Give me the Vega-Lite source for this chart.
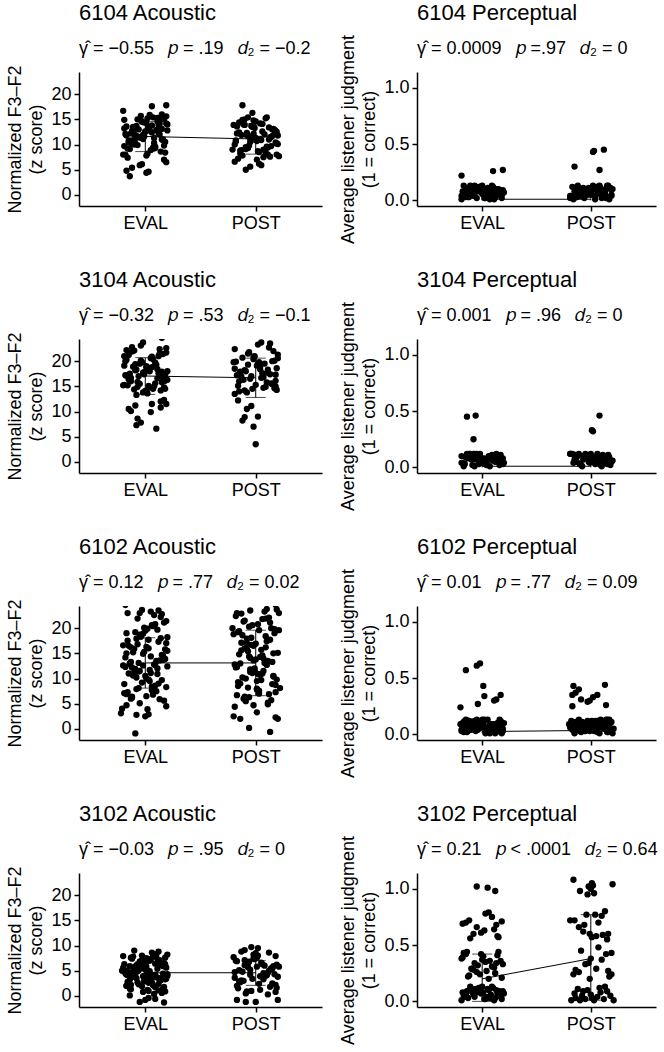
{
"$schema": "https://vega.github.io/schema/vega-lite/v6.json",
"padding": {"left": 6, "top": 1, "right": 5, "bottom": 3},
"columns": 2,
"bounds": "flush",
"spacing": {"row": 133, "column": 95},
"config": {
  "font": "Liberation Sans",
  "view": {"stroke": null},
  "axis": {"domainColor": "black", "tickColor": "black", "labelColor": "black", "titleColor": "black", "labelFontSize": 18, "titleFontSize": 18, "titleFontWeight": "normal", "tickSize": 5, "domainWidth": 1.5, "tickWidth": 1.5, "grid": false, "labelPadding": 3, "titlePadding": 5, "titleLineHeight": 21},
  "title": {"anchor": "start", "frame": "group", "fontSize": 22, "fontWeight": "normal", "color": "black", "subtitleFontSize": 18, "subtitleColor": "black", "subtitlePadding": 15, "offset": 6}
},
"datasets": {
"s": [
{"p":1,"x":1,"y":11.6,"lo":8.6,"hi":14.6},{"p":1,"x":2,"y":11.1,"lo":8.1,"hi":14.1},
{"p":2,"x":1,"y":0.01,"lo":0.0,"hi":0.02},{"p":2,"x":2,"y":0.01,"lo":0.0,"hi":0.02},
{"p":3,"x":1,"y":17.05,"lo":13.4,"hi":20.7},{"p":3,"x":2,"y":16.7,"lo":12.8,"hi":20.6},
{"p":4,"x":1,"y":0.01,"lo":0.0,"hi":0.02},{"p":4,"x":2,"y":0.01,"lo":0.0,"hi":0.02},
{"p":5,"x":1,"y":13.1,"lo":8.1,"hi":18.1},{"p":5,"x":2,"y":13.1,"lo":6.6,"hi":19.6},
{"p":6,"x":1,"y":0.025,"lo":0.01,"hi":0.04},{"p":6,"x":2,"y":0.035,"lo":0.015,"hi":0.055},
{"p":7,"x":1,"y":4.6,"lo":2.4,"hi":6.8},{"p":7,"x":2,"y":4.6,"lo":2.1,"hi":7.0},
{"p":8,"x":1,"y":0.2,"lo":0.0,"hi":0.42},{"p":8,"x":2,"y":0.38,"lo":0.01,"hi":0.77}
],
"d1": [{"x":0.82,"y":12.1},{"x":1.07,"y":9.4},{"x":0.96,"y":14.8},{"x":1.15,"y":11.0},{"x":0.89,"y":13.5},{"x":1.02,"y":8.2},{"x":1.19,"y":15.6},{"x":0.85,"y":10.7},{"x":1.10,"y":12.9},{"x":0.93,"y":9.9},{"x":1.13,"y":14.1},{"x":0.99,"y":11.6},{"x":0.81,"y":13.2},{"x":1.05,"y":8.9},{"x":1.17,"y":15.1},{"x":0.91,"y":10.2},{"x":1.00,"y":12.5},{"x":1.12,"y":13.9},{"x":0.86,"y":9.1},{"x":1.08,"y":11.3},{"x":0.97,"y":14.5},{"x":1.18,"y":10.5},{"x":0.88,"y":12.7},{"x":1.04,"y":15.9},{"x":1.14,"y":8.6},{"x":0.94,"y":13.0},{"x":0.83,"y":11.8},{"x":1.09,"y":9.6},{"x":1.01,"y":14.3},{"x":0.87,"y":12.2},{"x":1.16,"y":10.9},{"x":0.92,"y":13.7},{"x":1.11,"y":15.3},{"x":0.98,"y":11.1},{"x":0.84,"y":9.2},{"x":1.06,"y":12.4},{"x":1.20,"y":14.0},{"x":0.90,"y":10.0},{"x":1.03,"y":13.4},{"x":0.95,"y":11.5},{"x":1.18,"y":8.4},{"x":0.93,"y":15.0},{"x":1.04,"y":12.8},{"x":0.85,"y":10.4},{"x":1.11,"y":14.6},{"x":0.98,"y":11.9},{"x":0.81,"y":9.7},{"x":1.15,"y":13.1},{"x":0.90,"y":12.0},{"x":1.07,"y":15.4},{"x":0.87,"y":10.8},{"x":1.01,"y":7.8},{"x":1.19,"y":14.2},{"x":0.95,"y":11.4},{"x":0.83,"y":13.6},{"x":1.09,"y":9.3},{"x":1.00,"y":12.6},{"x":0.88,"y":10.1},{"x":1.14,"y":14.9},{"x":0.92,"y":11.7},{"x":1.03,"y":13.3},{"x":0.82,"y":8.0},{"x":1.12,"y":12.3},{"x":0.96,"y":15.7},{"x":0.86,"y":10.6},{"x":1.06,"y":13.8},{"x":1.17,"y":9.8},{"x":0.91,"y":11.2},{"x":0.99,"y":14.4},{"x":1.13,"y":12.0},{"x":0.84,"y":7.4},{"x":1.08,"y":10.3},{"x":0.89,"y":13.0},{"x":1.02,"y":15.2},{"x":1.16,"y":11.0},
{"x":0.80,"y":16.7},{"x":1.06,"y":17.6},{"x":1.19,"y":17.8},{"x":0.86,"y":3.7},{"x":0.83,"y":4.8},{"x":0.88,"y":5.4},{"x":0.95,"y":5.9},{"x":0.97,"y":6.1},{"x":1.01,"y":4.4},{"x":1.03,"y":4.6},{"x":1.19,"y":6.5},{"x":1.17,"y":7.0},{"x":0.80,"y":8.0},{"x":1.15,"y":16.0},{"x":1.20,"y":12.8},{"x":0.81,"y":14.9},
{"x":1.95,"y":11.2},{"x":2.03,"y":8.5},{"x":1.90,"y":13.9},{"x":2.20,"y":10.1},{"x":2.06,"y":12.6},{"x":1.84,"y":7.2},{"x":1.98,"y":14.8},{"x":2.11,"y":9.4},{"x":1.92,"y":11.8},{"x":2.16,"y":13.1},{"x":1.87,"y":8.9},{"x":2.01,"y":10.7},{"x":2.09,"y":15.2},{"x":1.83,"y":12.2},{"x":1.94,"y":9.8},{"x":2.14,"y":11.5},{"x":2.04,"y":14.2},{"x":1.88,"y":7.8},{"x":2.18,"y":10.4},{"x":1.97,"y":13.5},{"x":2.08,"y":12.0},{"x":1.86,"y":8.2},{"x":2.12,"y":11.0},{"x":2.00,"y":14.6},{"x":1.91,"y":9.1},{"x":2.17,"y":12.9},{"x":2.05,"y":10.9},{"x":1.81,"y":6.6},{"x":1.99,"y":13.3},{"x":2.13,"y":11.4},{"x":1.93,"y":15.4},{"x":2.10,"y":9.6},{"x":1.85,"y":12.4},{"x":2.19,"y":10.2},{"x":2.02,"y":8.7},{"x":1.89,"y":14.0},{"x":2.15,"y":11.7},{"x":1.96,"y":13.7},{"x":2.07,"y":7.5},{"x":1.82,"y":10.6},{"x":2.18,"y":12.7},{"x":1.93,"y":9.3},{"x":2.04,"y":11.1},{"x":1.85,"y":14.4},{"x":2.11,"y":8.0},{"x":1.98,"y":12.1},{"x":1.81,"y":10.0},{"x":2.15,"y":13.0},{"x":1.90,"y":15.0},{"x":2.07,"y":9.0},{"x":1.87,"y":11.9},{"x":2.01,"y":7.0},{"x":2.19,"y":12.5},{"x":1.95,"y":10.5},{"x":1.83,"y":13.6},{"x":2.09,"y":8.4},{"x":2.00,"y":11.3},{"x":1.88,"y":14.9},{"x":2.14,"y":9.7},{"x":1.92,"y":12.3},{"x":2.03,"y":6.2},{"x":1.82,"y":10.8},{"x":2.12,"y":13.4},{"x":1.96,"y":11.6},{"x":1.86,"y":8.8},{"x":2.06,"y":14.1},{"x":2.17,"y":12.8},{"x":1.91,"y":9.5},{"x":1.99,"y":11.0},{"x":2.13,"y":7.6},
{"x":1.88,"y":17.8},{"x":1.91,"y":5.0},{"x":1.95,"y":5.6},{"x":2.21,"y":7.7},{"x":2.20,"y":11.8},{"x":2.18,"y":12.4},{"x":2.19,"y":8.0},{"x":1.79,"y":9.0},{"x":1.80,"y":13.9},{"x":2.10,"y":15.4},{"x":1.97,"y":16.3},{"x":2.05,"y":5.9}],
"d2": [{"x":0.82,"y":0.08},{"x":1.07,"y":0.03},{"x":0.96,"y":0.11},{"x":1.15,"y":0.05},{"x":0.89,"y":0.13},{"x":1.02,"y":0.02},{"x":1.19,"y":0.09},{"x":0.85,"y":0.06},{"x":1.10,"y":0.12},{"x":0.93,"y":0.04},{"x":1.13,"y":0.10},{"x":0.99,"y":0.07},{"x":0.81,"y":0.01},{"x":1.05,"y":0.11},{"x":1.17,"y":0.05},{"x":0.91,"y":0.08},{"x":1.00,"y":0.13},{"x":1.12,"y":0.03},{"x":0.86,"y":0.09},{"x":1.08,"y":0.06},{"x":0.97,"y":0.12},{"x":1.18,"y":0.02},{"x":0.88,"y":0.10},{"x":1.04,"y":0.04},{"x":1.14,"y":0.07},{"x":0.94,"y":0.11},{"x":0.83,"y":0.05},{"x":1.09,"y":0.13},{"x":1.01,"y":0.08},{"x":0.87,"y":0.03},{"x":1.16,"y":0.09},{"x":0.92,"y":0.06},{"x":1.11,"y":0.01},{"x":0.98,"y":0.12},{"x":0.84,"y":0.04},{"x":1.06,"y":0.10},{"x":1.20,"y":0.07},{"x":0.90,"y":0.11},{"x":1.03,"y":0.02},{"x":0.95,"y":0.08},{"x":1.18,"y":0.05},{"x":0.93,"y":0.13},{"x":1.04,"y":0.09},{"x":0.85,"y":0.03},{"x":1.11,"y":0.06},{"x":0.98,"y":0.12},{"x":0.81,"y":0.04},{"x":1.15,"y":0.10},{"x":0.90,"y":0.07},{"x":1.07,"y":0.01},{"x":0.87,"y":0.11},{"x":1.01,"y":0.05},{"x":1.19,"y":0.08},{"x":0.95,"y":0.02},{"x":0.83,"y":0.13},{"x":1.09,"y":0.09},{"x":1.00,"y":0.06},{"x":0.88,"y":0.03},{"x":1.14,"y":0.10},{"x":0.92,"y":0.04},
{"x":0.81,"y":0.22},{"x":1.10,"y":0.26},{"x":1.19,"y":0.27},
{"x":1.95,"y":0.06},{"x":2.03,"y":0.12},{"x":1.90,"y":0.04},{"x":2.20,"y":0.10},{"x":2.06,"y":0.07},{"x":1.84,"y":0.01},{"x":1.98,"y":0.11},{"x":2.11,"y":0.05},{"x":1.92,"y":0.08},{"x":2.16,"y":0.13},{"x":1.87,"y":0.03},{"x":2.01,"y":0.09},{"x":2.09,"y":0.06},{"x":1.83,"y":0.12},{"x":1.94,"y":0.02},{"x":2.14,"y":0.10},{"x":2.04,"y":0.04},{"x":1.88,"y":0.07},{"x":2.18,"y":0.11},{"x":1.97,"y":0.05},{"x":2.08,"y":0.13},{"x":1.86,"y":0.08},{"x":2.12,"y":0.03},{"x":2.00,"y":0.09},{"x":1.91,"y":0.06},{"x":2.17,"y":0.01},{"x":2.05,"y":0.12},{"x":1.81,"y":0.04},{"x":1.99,"y":0.10},{"x":2.13,"y":0.07},{"x":1.93,"y":0.11},{"x":2.10,"y":0.02},{"x":1.85,"y":0.08},{"x":2.19,"y":0.05},{"x":2.02,"y":0.13},{"x":1.89,"y":0.09},{"x":2.15,"y":0.03},{"x":1.96,"y":0.06},{"x":2.07,"y":0.12},{"x":1.82,"y":0.04},{"x":2.18,"y":0.10},{"x":1.93,"y":0.07},{"x":2.04,"y":0.01},{"x":1.85,"y":0.11},{"x":2.11,"y":0.05},{"x":1.98,"y":0.08},{"x":1.81,"y":0.02},{"x":2.15,"y":0.13},{"x":1.90,"y":0.09},{"x":2.07,"y":0.06},{"x":1.87,"y":0.03},{"x":2.01,"y":0.10},{"x":2.19,"y":0.04},{"x":1.95,"y":0.08},{"x":1.83,"y":0.03},{"x":2.09,"y":0.11},{"x":2.00,"y":0.05},{"x":1.88,"y":0.13},{"x":2.14,"y":0.02},{"x":1.92,"y":0.09},
{"x":1.85,"y":0.30},{"x":2.02,"y":0.43},{"x":2.03,"y":0.44},{"x":2.12,"y":0.45},{"x":2.08,"y":0.27}],
"d3": [{"x":0.82,"y":17.2},{"x":1.07,"y":14.5},{"x":0.96,"y":20.1},{"x":1.15,"y":15.8},{"x":0.89,"y":18.9},{"x":1.02,"y":13.6},{"x":1.19,"y":21.7},{"x":0.85,"y":16.4},{"x":1.10,"y":19.3},{"x":0.93,"y":14.9},{"x":1.13,"y":22.4},{"x":0.99,"y":17.8},{"x":0.81,"y":15.3},{"x":1.05,"y":20.6},{"x":1.17,"y":16.9},{"x":0.91,"y":18.2},{"x":1.00,"y":13.9},{"x":1.12,"y":21.0},{"x":0.86,"y":17.5},{"x":1.08,"y":15.0},{"x":0.97,"y":19.8},{"x":1.18,"y":16.1},{"x":0.88,"y":22.8},{"x":1.04,"y":18.6},{"x":1.14,"y":14.2},{"x":0.94,"y":17.0},{"x":0.83,"y":20.3},{"x":1.09,"y":15.6},{"x":1.01,"y":19.0},{"x":0.87,"y":16.7},{"x":1.16,"y":21.4},{"x":0.92,"y":13.3},{"x":1.11,"y":18.4},{"x":0.98,"y":17.7},{"x":0.84,"y":15.2},{"x":1.06,"y":20.9},{"x":1.20,"y":16.3},{"x":0.90,"y":22.1},{"x":1.03,"y":14.7},{"x":0.95,"y":19.5},{"x":1.18,"y":17.3},{"x":0.93,"y":15.9},{"x":1.04,"y":18.0},{"x":0.85,"y":21.2},{"x":1.11,"y":16.6},{"x":0.98,"y":13.8},{"x":0.81,"y":19.1},{"x":1.15,"y":17.9},{"x":0.90,"y":14.4},{"x":1.07,"y":20.4},{"x":0.87,"y":16.0},{"x":1.01,"y":18.7},{"x":1.19,"y":22.6},{"x":0.95,"y":15.5},{"x":0.83,"y":17.1},{"x":1.09,"y":19.7},{"x":1.00,"y":14.1},{"x":0.88,"y":21.9},{"x":1.14,"y":16.8},{"x":0.92,"y":18.3},{"x":1.03,"y":15.1},{"x":0.82,"y":20.0},{"x":1.12,"y":17.6},{"x":0.96,"y":23.1},{"x":0.86,"y":16.2},{"x":1.06,"y":18.8},{"x":1.17,"y":14.8},{"x":0.91,"y":19.4},{"x":0.99,"y":17.4},{"x":1.13,"y":21.5},
{"x":1.15,"y":24.6},{"x":0.98,"y":23.7},{"x":0.85,"y":10.5},{"x":0.87,"y":10.1},{"x":0.91,"y":11.2},{"x":0.93,"y":8.6},{"x":0.92,"y":7.3},{"x":0.96,"y":7.8},{"x":1.10,"y":6.6},{"x":1.05,"y":9.9},{"x":1.06,"y":11.5},{"x":1.14,"y":12.0},{"x":1.14,"y":10.8},{"x":1.19,"y":11.5},{"x":1.17,"y":12.3},{"x":0.80,"y":15.2},{"x":0.81,"y":21.0},{"x":0.83,"y":22.2},{"x":1.20,"y":18.0},{"x":1.18,"y":14.5},
{"x":1.95,"y":16.5},{"x":2.03,"y":19.8},{"x":1.90,"y":14.2},{"x":2.20,"y":21.3},{"x":2.06,"y":17.6},{"x":1.84,"y":15.1},{"x":1.98,"y":20.4},{"x":2.11,"y":18.3},{"x":1.92,"y":13.8},{"x":2.16,"y":22.0},{"x":1.87,"y":16.9},{"x":2.01,"y":19.1},{"x":2.09,"y":14.9},{"x":1.83,"y":17.2},{"x":1.94,"y":21.8},{"x":2.14,"y":15.6},{"x":2.04,"y":18.9},{"x":1.88,"y":20.7},{"x":2.18,"y":16.1},{"x":1.97,"y":14.5},{"x":2.08,"y":19.5},{"x":1.86,"y":17.9},{"x":2.12,"y":22.7},{"x":2.00,"y":15.3},{"x":1.91,"y":18.0},{"x":2.17,"y":20.1},{"x":2.05,"y":16.7},{"x":1.81,"y":13.5},{"x":1.99,"y":21.0},{"x":2.13,"y":17.4},{"x":1.93,"y":19.3},{"x":2.10,"y":15.8},{"x":1.85,"y":14.0},{"x":2.19,"y":18.6},{"x":2.02,"y":23.3},{"x":1.89,"y":16.3},{"x":2.15,"y":20.0},{"x":1.96,"y":17.0},{"x":2.07,"y":14.7},{"x":1.82,"y":19.9},{"x":2.18,"y":15.0},{"x":1.93,"y":21.5},{"x":2.04,"y":18.4},{"x":1.85,"y":16.0},{"x":2.11,"y":17.7},{"x":1.98,"y":20.9},{"x":1.81,"y":22.4},{"x":2.15,"y":15.4},{"x":1.90,"y":18.2},{"x":2.07,"y":16.8},
{"x":2.00,"y":3.5},{"x":1.98,"y":7.0},{"x":2.02,"y":9.0},{"x":1.88,"y":8.2},{"x":1.90,"y":8.9},{"x":1.92,"y":10.5},{"x":1.96,"y":11.1},{"x":1.84,"y":12.2},{"x":2.19,"y":14.3},{"x":2.17,"y":14.6},{"x":2.05,"y":23.7},{"x":2.13,"y":23.5},{"x":1.80,"y":19.8},{"x":1.81,"y":18.5},{"x":2.20,"y":20.6},{"x":2.18,"y":17.3}],
"d4": [{"x":0.82,"y":0.04},{"x":1.07,"y":0.07},{"x":0.96,"y":0.11},{"x":1.15,"y":0.05},{"x":0.89,"y":0.12},{"x":1.02,"y":0.08},{"x":1.19,"y":0.03},{"x":0.85,"y":0.09},{"x":1.10,"y":0.06},{"x":0.93,"y":0.01},{"x":1.13,"y":0.12},{"x":0.99,"y":0.04},{"x":0.81,"y":0.10},{"x":1.05,"y":0.07},{"x":1.17,"y":0.11},{"x":0.91,"y":0.02},{"x":1.00,"y":0.08},{"x":1.12,"y":0.05},{"x":0.86,"y":0.12},{"x":1.08,"y":0.09},{"x":0.97,"y":0.03},{"x":1.18,"y":0.06},{"x":0.88,"y":0.12},{"x":1.04,"y":0.04},{"x":1.14,"y":0.10},{"x":0.94,"y":0.07},{"x":0.83,"y":0.01},{"x":1.09,"y":0.11},{"x":1.01,"y":0.05},{"x":0.87,"y":0.08},{"x":1.16,"y":0.02},{"x":0.92,"y":0.12},{"x":1.11,"y":0.09},{"x":0.98,"y":0.06},{"x":0.84,"y":0.03},{"x":1.06,"y":0.10},{"x":1.20,"y":0.04},{"x":0.90,"y":0.08},{"x":1.03,"y":0.03},{"x":0.95,"y":0.11},{"x":1.18,"y":0.05},{"x":0.93,"y":0.12},{"x":1.04,"y":0.02},{"x":0.85,"y":0.09},{"x":1.11,"y":0.06},{"x":0.98,"y":0.12},{"x":0.81,"y":0.04},{"x":1.15,"y":0.10},{"x":0.90,"y":0.07},{"x":1.07,"y":0.01},{"x":0.87,"y":0.11},{"x":1.01,"y":0.05},{"x":1.19,"y":0.08},{"x":0.95,"y":0.12},{"x":0.83,"y":0.03},
{"x":0.86,"y":0.45},{"x":0.94,"y":0.46},{"x":0.92,"y":0.25},
{"x":1.95,"y":0.12},{"x":2.03,"y":0.09},{"x":1.90,"y":0.03},{"x":2.20,"y":0.06},{"x":2.06,"y":0.12},{"x":1.84,"y":0.04},{"x":1.98,"y":0.10},{"x":2.11,"y":0.07},{"x":1.92,"y":0.01},{"x":2.16,"y":0.11},{"x":1.87,"y":0.05},{"x":2.01,"y":0.08},{"x":2.09,"y":0.02},{"x":1.83,"y":0.12},{"x":1.94,"y":0.09},{"x":2.14,"y":0.06},{"x":2.04,"y":0.03},{"x":1.88,"y":0.10},{"x":2.18,"y":0.04},{"x":1.97,"y":0.08},{"x":2.08,"y":0.03},{"x":1.86,"y":0.11},{"x":2.12,"y":0.05},{"x":2.00,"y":0.12},{"x":1.91,"y":0.02},{"x":2.17,"y":0.09},{"x":2.05,"y":0.06},{"x":1.81,"y":0.12},{"x":1.99,"y":0.04},{"x":2.13,"y":0.10},{"x":1.93,"y":0.07},{"x":2.10,"y":0.01},{"x":1.85,"y":0.11},{"x":2.19,"y":0.05},{"x":2.02,"y":0.08},{"x":1.89,"y":0.12},{"x":2.15,"y":0.03},{"x":1.96,"y":0.09},{"x":2.07,"y":0.06},{"x":1.82,"y":0.12},{"x":2.18,"y":0.02},{"x":1.93,"y":0.10},{"x":2.04,"y":0.04},{"x":1.85,"y":0.07},{"x":2.11,"y":0.11},{"x":1.98,"y":0.05},{"x":1.81,"y":0.12},{"x":2.15,"y":0.08},{"x":1.90,"y":0.03},{"x":2.07,"y":0.09},
{"x":2.08,"y":0.46},{"x":2.01,"y":0.33},{"x":2.02,"y":0.32}],
"d5": [{"x":0.82,"y":12.3},{"x":1.07,"y":6.8},{"x":0.96,"y":18.5},{"x":1.15,"y":9.7},{"x":0.89,"y":15.2},{"x":1.02,"y":3.9},{"x":1.19,"y":21.4},{"x":0.85,"y":11.0},{"x":1.10,"y":7.5},{"x":0.93,"y":16.8},{"x":1.13,"y":13.6},{"x":0.99,"y":20.1},{"x":0.81,"y":8.9},{"x":1.05,"y":14.4},{"x":1.17,"y":5.6},{"x":0.91,"y":19.2},{"x":1.00,"y":10.5},{"x":1.12,"y":17.3},{"x":0.86,"y":12.9},{"x":1.08,"y":22.6},{"x":0.97,"y":9.2},{"x":1.18,"y":15.8},{"x":0.88,"y":6.2},{"x":1.04,"y":11.7},{"x":1.14,"y":18.0},{"x":0.94,"y":13.1},{"x":0.83,"y":4.7},{"x":1.09,"y":20.8},{"x":1.01,"y":10.0},{"x":0.87,"y":16.2},{"x":1.16,"y":14.0},{"x":0.92,"y":7.9},{"x":1.11,"y":19.7},{"x":0.98,"y":12.6},{"x":0.84,"y":23.0},{"x":1.06,"y":8.4},{"x":1.20,"y":15.5},{"x":0.90,"y":11.3},{"x":1.03,"y":17.7},{"x":0.95,"y":5.1},{"x":1.18,"y":13.9},{"x":0.93,"y":21.9},{"x":1.04,"y":9.5},{"x":0.85,"y":16.5},{"x":1.11,"y":12.0},{"x":0.98,"y":18.9},{"x":0.81,"y":7.1},{"x":1.15,"y":14.7},{"x":0.90,"y":10.8},{"x":1.07,"y":20.4},{"x":0.87,"y":13.3},{"x":1.01,"y":6.5},{"x":1.19,"y":17.0},{"x":0.95,"y":11.5},{"x":0.83,"y":15.0},{"x":1.09,"y":8.6},{"x":1.00,"y":19.5},{"x":0.88,"y":12.2},{"x":1.14,"y":22.2},{"x":0.92,"y":10.2},{"x":1.03,"y":16.0},{"x":0.82,"y":14.2},{"x":1.12,"y":9.0},{"x":0.96,"y":18.3},{"x":0.86,"y":13.0},{"x":1.06,"y":7.7},{"x":1.17,"y":21.1},{"x":0.91,"y":11.9},{"x":0.99,"y":15.3},{"x":1.13,"y":5.9},{"x":0.84,"y":17.5},{"x":1.08,"y":12.8},{"x":0.89,"y":10.6},{"x":1.02,"y":19.9},{"x":1.16,"y":14.6},{"x":0.94,"y":8.1},{"x":0.80,"y":16.6},{"x":1.10,"y":13.5},{"x":0.97,"y":23.6},{"x":1.05,"y":11.1},{"x":0.95,"y":18.7},{"x":1.03,"y":9.8},{"x":0.90,"y":15.9},{"x":1.20,"y":12.4},{"x":1.06,"y":20.6},{"x":0.84,"y":7.3},{"x":0.98,"y":14.9},{"x":1.11,"y":10.9},{"x":0.92,"y":17.9},{"x":1.16,"y":13.7},{"x":0.87,"y":6.0},{"x":1.01,"y":16.3},{"x":1.09,"y":12.7},{"x":0.83,"y":19.0},{"x":0.94,"y":11.4},
{"x":0.91,"y":-0.9},{"x":1.00,"y":2.5},{"x":0.92,"y":2.8},{"x":1.03,"y":2.9},{"x":0.78,"y":3.1},{"x":0.79,"y":4.0},{"x":1.19,"y":4.5},{"x":0.83,"y":6.9},{"x":0.88,"y":6.4},{"x":0.82,"y":24.6},{"x":0.95,"y":23.0},{"x":1.05,"y":23.3},{"x":1.12,"y":23.5},{"x":1.15,"y":22.8},{"x":1.20,"y":18.2},{"x":0.80,"y":12.6},{"x":1.19,"y":8.3},
{"x":1.95,"y":11.8},{"x":2.03,"y":19.6},{"x":1.90,"y":6.4},{"x":2.20,"y":15.1},{"x":2.06,"y":21.8},{"x":1.84,"y":9.3},{"x":1.98,"y":13.6},{"x":2.11,"y":4.9},{"x":1.92,"y":17.9},{"x":2.16,"y":10.4},{"x":1.87,"y":22.9},{"x":2.01,"y":7.8},{"x":2.09,"y":16.2},{"x":1.83,"y":12.5},{"x":1.94,"y":20.3},{"x":2.14,"y":5.7},{"x":2.04,"y":14.3},{"x":1.88,"y":18.6},{"x":2.18,"y":8.7},{"x":1.97,"y":11.1},{"x":2.08,"y":23.3},{"x":1.86,"y":13.0},{"x":2.12,"y":6.9},{"x":2.00,"y":16.9},{"x":1.91,"y":10.0},{"x":2.17,"y":19.0},{"x":2.05,"y":15.7},{"x":1.81,"y":4.4},{"x":1.99,"y":12.0},{"x":2.13,"y":21.1},{"x":1.93,"y":8.2},{"x":2.10,"y":17.4},{"x":1.85,"y":14.8},{"x":2.19,"y":9.8},{"x":2.02,"y":20.8},{"x":1.89,"y":6.0},{"x":2.15,"y":13.3},{"x":1.96,"y":18.1},{"x":2.07,"y":11.5},{"x":1.82,"y":22.4},{"x":2.18,"y":7.3},{"x":1.93,"y":15.4},{"x":2.04,"y":10.7},{"x":1.85,"y":19.4},{"x":2.11,"y":5.2},{"x":1.98,"y":16.5},{"x":1.81,"y":12.8},{"x":2.15,"y":8.9},{"x":1.90,"y":21.5},{"x":2.07,"y":14.0},{"x":1.87,"y":17.1},{"x":2.01,"y":9.5},{"x":2.19,"y":23.7},{"x":1.95,"y":11.3},{"x":1.83,"y":6.7},{"x":2.09,"y":18.4},{"x":2.00,"y":13.8},{"x":1.88,"y":10.2},{"x":2.14,"y":20.0},{"x":1.92,"y":15.9},{"x":2.03,"y":7.0},{"x":1.82,"y":12.2},{"x":2.12,"y":22.1},{"x":1.96,"y":16.7},{"x":1.86,"y":9.0},{"x":2.06,"y":14.6},{"x":2.17,"y":19.8},{"x":1.91,"y":5.5},{"x":1.99,"y":11.6},{"x":2.13,"y":17.7},{"x":1.84,"y":8.5},{"x":2.08,"y":13.1},{"x":1.89,"y":21.3},{"x":2.02,"y":10.9},{"x":2.16,"y":15.0},{"x":1.94,"y":6.3},{"x":1.80,"y":18.8},{"x":2.10,"y":12.7},{"x":1.97,"y":20.6},{"x":2.05,"y":9.7},{"x":1.95,"y":14.1},{"x":2.03,"y":7.6},{"x":1.90,"y":16.0},{"x":2.21,"y":23.0},{"x":2.06,"y":11.0},{"x":1.84,"y":19.2},{"x":1.98,"y":4.7},{"x":2.11,"y":13.5},{"x":1.92,"y":17.0},{"x":2.16,"y":10.5},{"x":1.87,"y":15.6},{"x":2.01,"y":8.0},{"x":2.09,"y":21.9},{"x":1.83,"y":12.3},{"x":1.94,"y":14.4},
{"x":1.94,"y":0.2},{"x":2.13,"y":-0.6},{"x":1.86,"y":2.0},{"x":1.80,"y":2.5},{"x":2.18,"y":2.3},{"x":2.20,"y":2.0},{"x":2.01,"y":3.3},{"x":1.95,"y":23.5},{"x":2.10,"y":23.8},{"x":2.18,"y":24.6},{"x":1.83,"y":23.0},{"x":2.21,"y":19.6},{"x":1.79,"y":20.0},{"x":2.22,"y":8.1}],
"d6": [{"x":0.82,"y":0.07},{"x":1.07,"y":0.01},{"x":0.96,"y":0.11},{"x":1.15,"y":0.05},{"x":0.89,"y":0.08},{"x":1.02,"y":0.13},{"x":1.19,"y":0.03},{"x":0.85,"y":0.09},{"x":1.10,"y":0.06},{"x":0.93,"y":0.12},{"x":1.13,"y":0.02},{"x":0.99,"y":0.10},{"x":0.81,"y":0.04},{"x":1.05,"y":0.07},{"x":1.17,"y":0.11},{"x":0.91,"y":0.05},{"x":1.00,"y":0.13},{"x":1.12,"y":0.08},{"x":0.86,"y":0.03},{"x":1.08,"y":0.09},{"x":0.97,"y":0.06},{"x":1.18,"y":0.01},{"x":0.88,"y":0.12},{"x":1.04,"y":0.04},{"x":1.14,"y":0.10},{"x":0.94,"y":0.07},{"x":0.83,"y":0.11},{"x":1.09,"y":0.02},{"x":1.01,"y":0.08},{"x":0.87,"y":0.05},{"x":1.16,"y":0.13},{"x":0.92,"y":0.09},{"x":1.11,"y":0.03},{"x":0.98,"y":0.06},{"x":0.84,"y":0.12},{"x":1.06,"y":0.04},{"x":1.20,"y":0.10},{"x":0.90,"y":0.07},{"x":1.03,"y":0.01},{"x":0.95,"y":0.11},{"x":1.18,"y":0.05},{"x":0.93,"y":0.08},{"x":1.04,"y":0.02},{"x":0.85,"y":0.13},{"x":1.11,"y":0.09},{"x":0.98,"y":0.06},{"x":0.81,"y":0.03},{"x":1.15,"y":0.10},{"x":0.90,"y":0.04},{"x":1.07,"y":0.08},{"x":0.87,"y":0.03},{"x":1.01,"y":0.11},{"x":1.19,"y":0.05},{"x":0.95,"y":0.13},{"x":0.83,"y":0.02},{"x":1.09,"y":0.09},{"x":1.00,"y":0.06},{"x":0.88,"y":0.12},{"x":1.14,"y":0.04},{"x":0.92,"y":0.10},{"x":1.03,"y":0.06},{"x":0.82,"y":0.10},{"x":1.12,"y":0.01},{"x":0.96,"y":0.04},{"x":1.17,"y":0.12},{"x":0.86,"y":0.02},{"x":1.05,"y":0.13},{"x":0.94,"y":0.03},{"x":1.16,"y":0.07},{"x":0.80,"y":0.09},
{"x":0.85,"y":0.57},{"x":0.95,"y":0.61},{"x":0.98,"y":0.63},{"x":1.01,"y":0.43},{"x":0.96,"y":0.27},{"x":1.02,"y":0.34},{"x":1.11,"y":0.30},{"x":1.13,"y":0.31},{"x":1.17,"y":0.35},{"x":0.80,"y":0.24},
{"x":1.95,"y":0.03},{"x":2.03,"y":0.09},{"x":1.90,"y":0.06},{"x":2.20,"y":0.01},{"x":2.06,"y":0.12},{"x":1.84,"y":0.04},{"x":1.98,"y":0.10},{"x":2.11,"y":0.07},{"x":1.92,"y":0.11},{"x":2.16,"y":0.02},{"x":1.87,"y":0.08},{"x":2.01,"y":0.05},{"x":2.09,"y":0.13},{"x":1.83,"y":0.09},{"x":1.94,"y":0.03},{"x":2.14,"y":0.06},{"x":2.04,"y":0.12},{"x":1.88,"y":0.04},{"x":2.18,"y":0.10},{"x":1.97,"y":0.07},{"x":2.08,"y":0.01},{"x":1.86,"y":0.11},{"x":2.12,"y":0.05},{"x":2.00,"y":0.08},{"x":1.91,"y":0.02},{"x":2.17,"y":0.13},{"x":2.05,"y":0.09},{"x":1.81,"y":0.06},{"x":1.99,"y":0.03},{"x":2.13,"y":0.10},{"x":1.93,"y":0.04},{"x":2.10,"y":0.08},{"x":1.85,"y":0.03},{"x":2.19,"y":0.11},{"x":2.02,"y":0.05},{"x":1.89,"y":0.13},{"x":2.15,"y":0.02},{"x":1.96,"y":0.09},{"x":2.07,"y":0.06},{"x":1.82,"y":0.12},{"x":2.18,"y":0.04},{"x":1.93,"y":0.10},{"x":2.04,"y":0.07},{"x":1.85,"y":0.01},{"x":2.11,"y":0.11},{"x":1.98,"y":0.05},{"x":1.81,"y":0.08},{"x":2.15,"y":0.13},{"x":1.90,"y":0.03},{"x":2.07,"y":0.09},{"x":1.87,"y":0.06},{"x":2.01,"y":0.12},{"x":2.19,"y":0.02},{"x":1.95,"y":0.10},{"x":1.83,"y":0.04},{"x":2.09,"y":0.07},{"x":2.00,"y":0.11},{"x":1.88,"y":0.05},{"x":2.14,"y":0.13},{"x":1.92,"y":0.08},{"x":2.21,"y":0.05},{"x":1.80,"y":0.09},{"x":2.06,"y":0.02},{"x":1.97,"y":0.12},{"x":2.16,"y":0.08},{"x":1.84,"y":0.06},{"x":2.03,"y":0.03},{"x":1.91,"y":0.10},{"x":2.12,"y":0.11},{"x":1.99,"y":0.07},
{"x":1.84,"y":0.43},{"x":1.89,"y":0.40},{"x":2.13,"y":0.44},{"x":1.83,"y":0.35},{"x":1.86,"y":0.37},{"x":1.91,"y":0.31},{"x":1.99,"y":0.30},{"x":2.02,"y":0.33},{"x":2.06,"y":0.35},{"x":1.97,"y":0.29},{"x":1.83,"y":0.25},{"x":2.14,"y":0.26}],
"d7": [{"x":0.82,"y":4.8},{"x":1.07,"y":2.1},{"x":0.96,"y":6.9},{"x":1.15,"y":3.5},{"x":0.89,"y":7.8},{"x":1.02,"y":1.2},{"x":1.19,"y":5.6},{"x":0.85,"y":4.0},{"x":1.10,"y":8.3},{"x":0.93,"y":2.7},{"x":1.13,"y":6.2},{"x":0.99,"y":3.0},{"x":0.81,"y":5.1},{"x":1.05,"y":7.3},{"x":1.17,"y":1.8},{"x":0.91,"y":4.4},{"x":1.00,"y":6.6},{"x":1.12,"y":2.4},{"x":0.86,"y":5.9},{"x":1.08,"y":3.8},{"x":0.97,"y":8.0},{"x":1.18,"y":0.9},{"x":0.88,"y":4.6},{"x":1.04,"y":7.0},{"x":1.14,"y":3.2},{"x":0.94,"y":5.3},{"x":0.83,"y":2.0},{"x":1.09,"y":6.4},{"x":1.01,"y":4.1},{"x":0.87,"y":7.6},{"x":1.16,"y":1.5},{"x":0.92,"y":5.0},{"x":1.11,"y":3.6},{"x":0.98,"y":6.0},{"x":0.84,"y":2.8},{"x":1.06,"y":8.6},{"x":1.20,"y":4.3},{"x":0.90,"y":5.7},{"x":1.03,"y":1.0},{"x":0.95,"y":6.8},{"x":1.18,"y":3.3},{"x":0.93,"y":4.9},{"x":1.04,"y":7.2},{"x":0.85,"y":2.5},{"x":1.11,"y":5.4},{"x":0.98,"y":3.9},{"x":0.81,"y":6.3},{"x":1.15,"y":0.6},{"x":0.90,"y":4.7},{"x":1.07,"y":7.9},{"x":0.87,"y":2.2},{"x":1.01,"y":5.8},{"x":1.19,"y":3.4},{"x":0.95,"y":6.7},{"x":0.83,"y":4.2},{"x":1.09,"y":1.7},{"x":1.00,"y":5.2},{"x":0.88,"y":7.4},{"x":1.14,"y":3.1},{"x":0.92,"y":6.1},{"x":1.03,"y":2.6},{"x":0.82,"y":4.5},{"x":1.12,"y":8.8},{"x":0.96,"y":5.5},{"x":0.86,"y":1.4},{"x":1.06,"y":3.7},{"x":1.17,"y":6.5},{"x":0.91,"y":4.8},{"x":0.99,"y":2.9},{"x":1.13,"y":7.1},{"x":0.84,"y":5.0},{"x":1.08,"y":0.4},{"x":0.89,"y":3.8},{"x":1.02,"y":6.9},{"x":1.16,"y":4.4},{"x":0.94,"y":2.3},{"x":0.80,"y":5.6},{"x":1.10,"y":7.7},{"x":0.97,"y":1.9},{"x":1.05,"y":4.0},{"x":0.95,"y":6.0},{"x":1.03,"y":3.0},{"x":0.90,"y":5.3},{"x":1.20,"y":8.2},{"x":1.06,"y":2.7},{"x":0.84,"y":4.6},{"x":0.98,"y":0.8},{"x":1.11,"y":6.6},{"x":0.92,"y":3.5},{"x":1.16,"y":5.9},{"x":0.87,"y":1.3},{"x":1.01,"y":7.5},{"x":1.09,"y":4.2},{"x":0.83,"y":2.0},{"x":0.94,"y":5.1},{"x":1.18,"y":6.3},{"x":0.86,"y":3.2},{"x":1.04,"y":4.9},{"x":0.97,"y":7.0},{"x":1.12,"y":1.1},
{"x":0.95,"y":-1.2},{"x":1.00,"y":-0.8},{"x":1.03,"y":-0.4},{"x":1.09,"y":-0.6},{"x":1.17,"y":-1.3},{"x":0.86,"y":0.1},{"x":0.90,"y":9.0},{"x":0.80,"y":7.9},{"x":1.18,"y":7.6},{"x":1.20,"y":4.0},{"x":0.79,"y":5.0},
{"x":1.95,"y":5.2},{"x":2.03,"y":2.4},{"x":1.90,"y":7.1},{"x":2.20,"y":3.8},{"x":2.06,"y":6.3},{"x":1.84,"y":1.5},{"x":1.98,"y":8.2},{"x":2.11,"y":4.6},{"x":1.92,"y":0.9},{"x":2.16,"y":5.9},{"x":1.87,"y":3.1},{"x":2.01,"y":7.6},{"x":2.09,"y":4.0},{"x":1.83,"y":2.0},{"x":1.94,"y":6.8},{"x":2.14,"y":5.5},{"x":2.04,"y":1.2},{"x":1.88,"y":4.8},{"x":2.18,"y":7.9},{"x":1.97,"y":3.4},{"x":2.08,"y":6.0},{"x":1.86,"y":2.7},{"x":2.12,"y":5.0},{"x":2.00,"y":8.5},{"x":1.91,"y":0.5},{"x":2.17,"y":4.3},{"x":2.05,"y":6.6},{"x":1.81,"y":3.6},{"x":1.99,"y":7.3},{"x":2.13,"y":1.8},{"x":1.93,"y":5.7},{"x":2.10,"y":4.1},{"x":1.85,"y":2.9},{"x":2.19,"y":6.2},{"x":2.02,"y":8.0},{"x":1.89,"y":3.0},{"x":2.15,"y":5.4},{"x":1.96,"y":1.0},{"x":2.07,"y":4.5},{"x":1.82,"y":7.0},{"x":2.18,"y":2.2},{"x":1.93,"y":6.5},{"x":2.04,"y":3.9},{"x":1.85,"y":5.1},{"x":2.11,"y":0.3},{"x":1.98,"y":7.5},{"x":1.81,"y":4.7},{"x":2.15,"y":2.5},{"x":1.90,"y":6.1},{"x":2.07,"y":3.3},{"x":1.87,"y":8.8},{"x":2.01,"y":5.8},{"x":2.19,"y":1.6},{"x":1.95,"y":4.2},{"x":1.83,"y":6.9},
{"x":1.96,"y":9.7},{"x":2.02,"y":9.5},{"x":1.90,"y":9.1},{"x":2.12,"y":8.6},{"x":1.91,"y":-1.2},{"x":1.83,"y":-0.8},{"x":2.00,"y":-1.2},{"x":2.20,"y":-0.8},{"x":2.18,"y":0.8},{"x":1.80,"y":7.7},{"x":2.21,"y":5.8}],
"d8": [{"x":0.82,"y":0.08},{"x":1.07,"y":0.03},{"x":0.96,"y":0.11},{"x":1.15,"y":0.05},{"x":0.89,"y":0.13},{"x":1.02,"y":0.02},{"x":1.19,"y":0.09},{"x":0.85,"y":0.06},{"x":1.10,"y":0.12},{"x":0.93,"y":0.04},{"x":1.13,"y":0.10},{"x":0.99,"y":0.07},{"x":0.81,"y":0.01},{"x":1.05,"y":0.11},{"x":1.17,"y":0.05},{"x":0.91,"y":0.08},{"x":1.00,"y":0.13},{"x":1.12,"y":0.03},{"x":0.86,"y":0.09},{"x":1.08,"y":0.06},{"x":0.97,"y":0.12},{"x":1.18,"y":0.02},{"x":0.88,"y":0.10},{"x":1.04,"y":0.04},{"x":1.14,"y":0.07},{"x":0.94,"y":0.11},{"x":0.83,"y":0.05},{"x":1.09,"y":0.13},{"x":1.01,"y":0.08},{"x":0.87,"y":0.03},{"x":1.16,"y":0.09},{"x":0.92,"y":0.06},{"x":1.11,"y":0.01},{"x":0.98,"y":0.12},{"x":0.84,"y":0.04},{"x":1.06,"y":0.10},{"x":1.20,"y":0.07},{"x":0.90,"y":0.11},{"x":1.03,"y":0.02},{"x":0.95,"y":0.08},
{"x":1.18,"y":0.21},{"x":0.93,"y":0.34},{"x":1.04,"y":0.27},{"x":0.85,"y":0.42},{"x":1.11,"y":0.30},{"x":0.98,"y":0.24},{"x":0.81,"y":0.38},{"x":1.15,"y":0.44},{"x":0.90,"y":0.29},{"x":1.07,"y":0.36},{"x":0.87,"y":0.22},{"x":1.01,"y":0.40},{"x":1.19,"y":0.33},{"x":0.95,"y":0.26},{"x":0.83,"y":0.43},{"x":1.09,"y":0.31},{"x":1.00,"y":0.37},{"x":0.88,"y":0.23},{"x":1.14,"y":0.41},{"x":0.92,"y":0.28},{"x":1.03,"y":0.35},{"x":0.82,"y":0.39},{"x":1.12,"y":0.25},{"x":0.96,"y":0.32},{"x":0.86,"y":0.44},{"x":1.06,"y":0.20},{"x":1.17,"y":0.36},{"x":0.91,"y":0.29},{"x":0.99,"y":0.42},{"x":1.13,"y":0.34},
{"x":0.82,"y":0.69},{"x":0.85,"y":0.70},{"x":0.88,"y":0.72},{"x":0.92,"y":0.60},{"x":1.03,"y":0.78},{"x":1.06,"y":0.79},{"x":1.13,"y":0.68},{"x":1.15,"y":0.57},{"x":1.14,"y":0.58},{"x":1.02,"y":0.63},{"x":0.95,"y":0.66},{"x":1.09,"y":0.75},{"x":0.99,"y":0.61},{"x":1.18,"y":0.71},{"x":0.89,"y":0.56},{"x":1.11,"y":0.64},
{"x":0.95,"y":1.02},{"x":1.05,"y":1.01},{"x":1.12,"y":0.98},
{"x":1.84,"y":1.08},{"x":2.01,"y":1.05},{"x":2.02,"y":1.03},{"x":1.98,"y":1.02},{"x":2.20,"y":1.04},{"x":1.90,"y":0.98},{"x":1.97,"y":0.95},{"x":2.00,"y":1.00},{"x":2.03,"y":0.96},
{"x":1.81,"y":0.72},{"x":1.85,"y":0.72},{"x":1.89,"y":0.66},{"x":1.93,"y":0.62},{"x":1.96,"y":0.77},{"x":2.04,"y":0.77},{"x":2.10,"y":0.76},{"x":2.13,"y":0.80},{"x":1.99,"y":0.60},{"x":2.01,"y":0.57},{"x":2.05,"y":0.58},{"x":2.11,"y":0.59},{"x":2.15,"y":0.55},{"x":1.94,"y":0.68},{"x":2.07,"y":0.70},{"x":2.16,"y":0.60},
{"x":2.14,"y":0.42},{"x":2.10,"y":0.37},{"x":1.98,"y":0.34},{"x":2.00,"y":0.38},{"x":1.95,"y":0.33},{"x":2.19,"y":0.43},{"x":2.07,"y":0.48},{"x":1.91,"y":0.45},
{"x":1.86,"y":0.28},{"x":1.89,"y":0.26},{"x":2.16,"y":0.27},{"x":2.19,"y":0.24},{"x":2.17,"y":0.22},{"x":1.84,"y":0.24},{"x":1.99,"y":0.20},{"x":2.05,"y":0.29},
{"x":1.82,"y":0.01},{"x":1.86,"y":0.03},{"x":1.85,"y":0.07},{"x":1.88,"y":0.11},{"x":1.92,"y":0.05},{"x":1.95,"y":0.02},{"x":2.00,"y":0.06},{"x":2.03,"y":0.01},{"x":2.06,"y":0.04},{"x":2.09,"y":0.08},{"x":2.12,"y":0.02},{"x":2.15,"y":0.09},{"x":2.18,"y":0.05},{"x":2.21,"y":0.01},{"x":1.97,"y":0.10},{"x":2.08,"y":0.12},{"x":1.90,"y":0.01},{"x":2.13,"y":0.13},{"x":1.93,"y":0.09},{"x":2.01,"y":0.03}]
},
"concat": [
{"width": 243, "height": 134,
 "title": {"text": "6104 Acoustic", "subtitle": "γ̂ = −0.55 \u2002𝑝 = .19 \u2002𝑑₂ = −0.2"},
 "encoding": {"x": {"field": "x", "type": "quantitative", "scale": {"domain": [0.4, 2.6], "nice": false, "zero": false}, "axis": {"values": [1, 2], "labelExpr": "datum.value == 1 ? 'EVAL' : 'POST'", "title": null}},
  "y": {"field": "y", "type": "quantitative", "scale": {"domain": [-2.2, 24.4], "nice": false, "zero": false}, "axis": {"values": [0, 5, 10, 15, 20], "title": ["Normalized F3–F2", "(z score)"]}}},
 "layer": [
  {"data": {"name": "s"}, "transform": [{"filter": "datum.p == 1"}], "mark": {"type": "rule", "color": "black", "strokeWidth": 1}, "encoding": {"y": {"field": "lo", "type": "quantitative"}, "y2": {"field": "hi"}}},
  {"data": {"name": "s"}, "transform": [{"filter": "datum.p == 1"}], "mark": {"type": "tick", "orient": "horizontal", "color": "black", "size": 20, "thickness": 1}, "encoding": {"y": {"field": "lo", "type": "quantitative"}}},
  {"data": {"name": "s"}, "transform": [{"filter": "datum.p == 1"}], "mark": {"type": "tick", "orient": "horizontal", "color": "black", "size": 20, "thickness": 1}, "encoding": {"y": {"field": "hi", "type": "quantitative"}}},
  {"data": {"name": "s"}, "transform": [{"filter": "datum.p == 1"}], "mark": {"type": "line", "color": "black", "strokeWidth": 1}, "encoding": {}},
  {"data": {"name": "d1"}, "mark": {"type": "circle", "size": 40, "color": "black", "opacity": 1, "clip": true}, "encoding": {}}
 ]},
{"width": 239, "height": 134,
 "title": {"text": "6104 Perceptual", "subtitle": "γ̂ = 0.0009 \u2002𝑝 =.97 \u2002𝑑₂ = 0", "offset": -24},
 "encoding": {"x": {"field": "x", "type": "quantitative", "scale": {"domain": [0.4, 2.6], "nice": false, "zero": false}, "axis": {"values": [1, 2], "labelExpr": "datum.value == 1 ? 'EVAL' : 'POST'", "title": null}},
  "y": {"field": "y", "type": "quantitative", "scale": {"domain": [-0.05, 1.14], "nice": false, "zero": false}, "axis": {"values": [0, 0.5, 1], "format": ".1f", "title": ["Average listener judgment", "(1 = correct)"]}}},
 "layer": [
  {"data": {"name": "s"}, "transform": [{"filter": "datum.p == 2"}], "mark": {"type": "rule", "color": "black", "strokeWidth": 1}, "encoding": {"y": {"field": "lo", "type": "quantitative"}, "y2": {"field": "hi"}}},
  {"data": {"name": "s"}, "transform": [{"filter": "datum.p == 2"}], "mark": {"type": "line", "color": "black", "strokeWidth": 1}, "encoding": {}},
  {"data": {"name": "d2"}, "mark": {"type": "circle", "size": 40, "color": "black", "opacity": 1, "clip": true}, "encoding": {}}
 ]},
{"width": 243, "height": 134,
 "title": {"text": "3104 Acoustic", "subtitle": "γ̂ = −0.32 \u2002𝑝 = .53 \u2002𝑑₂ = −0.1"},
 "encoding": {"x": {"field": "x", "type": "quantitative", "scale": {"domain": [0.4, 2.6], "nice": false, "zero": false}, "axis": {"values": [1, 2], "labelExpr": "datum.value == 1 ? 'EVAL' : 'POST'", "title": null}},
  "y": {"field": "y", "type": "quantitative", "scale": {"domain": [-2.2, 24.4], "nice": false, "zero": false}, "axis": {"values": [0, 5, 10, 15, 20], "title": ["Normalized F3–F2", "(z score)"]}}},
 "layer": [
  {"data": {"name": "s"}, "transform": [{"filter": "datum.p == 3"}], "mark": {"type": "rule", "color": "black", "strokeWidth": 1}, "encoding": {"y": {"field": "lo", "type": "quantitative"}, "y2": {"field": "hi"}}},
  {"data": {"name": "s"}, "transform": [{"filter": "datum.p == 3"}], "mark": {"type": "tick", "orient": "horizontal", "color": "black", "size": 20, "thickness": 1}, "encoding": {"y": {"field": "lo", "type": "quantitative"}}},
  {"data": {"name": "s"}, "transform": [{"filter": "datum.p == 3"}], "mark": {"type": "tick", "orient": "horizontal", "color": "black", "size": 20, "thickness": 1}, "encoding": {"y": {"field": "hi", "type": "quantitative"}}},
  {"data": {"name": "s"}, "transform": [{"filter": "datum.p == 3"}], "mark": {"type": "line", "color": "black", "strokeWidth": 1}, "encoding": {}},
  {"data": {"name": "d3"}, "mark": {"type": "circle", "size": 40, "color": "black", "opacity": 1, "clip": true}, "encoding": {}}
 ]},
{"width": 239, "height": 134,
 "title": {"text": "3104 Perceptual", "subtitle": "γ̂ = 0.001 \u2002𝑝 = .96 \u2002𝑑₂ = 0", "offset": -24},
 "encoding": {"x": {"field": "x", "type": "quantitative", "scale": {"domain": [0.4, 2.6], "nice": false, "zero": false}, "axis": {"values": [1, 2], "labelExpr": "datum.value == 1 ? 'EVAL' : 'POST'", "title": null}},
  "y": {"field": "y", "type": "quantitative", "scale": {"domain": [-0.05, 1.14], "nice": false, "zero": false}, "axis": {"values": [0, 0.5, 1], "format": ".1f", "title": ["Average listener judgment", "(1 = correct)"]}}},
 "layer": [
  {"data": {"name": "s"}, "transform": [{"filter": "datum.p == 4"}], "mark": {"type": "rule", "color": "black", "strokeWidth": 1}, "encoding": {"y": {"field": "lo", "type": "quantitative"}, "y2": {"field": "hi"}}},
  {"data": {"name": "s"}, "transform": [{"filter": "datum.p == 4"}], "mark": {"type": "line", "color": "black", "strokeWidth": 1}, "encoding": {}},
  {"data": {"name": "d4"}, "mark": {"type": "circle", "size": 40, "color": "black", "opacity": 1, "clip": true}, "encoding": {}}
 ]},
{"width": 243, "height": 134,
 "title": {"text": "6102 Acoustic", "subtitle": "γ̂ = 0.12 \u2002𝑝 = .77 \u2002𝑑₂ = 0.02"},
 "encoding": {"x": {"field": "x", "type": "quantitative", "scale": {"domain": [0.4, 2.6], "nice": false, "zero": false}, "axis": {"values": [1, 2], "labelExpr": "datum.value == 1 ? 'EVAL' : 'POST'", "title": null}},
  "y": {"field": "y", "type": "quantitative", "scale": {"domain": [-2.2, 24.4], "nice": false, "zero": false}, "axis": {"values": [0, 5, 10, 15, 20], "title": ["Normalized F3–F2", "(z score)"]}}},
 "layer": [
  {"data": {"name": "s"}, "transform": [{"filter": "datum.p == 5"}], "mark": {"type": "rule", "color": "black", "strokeWidth": 1}, "encoding": {"y": {"field": "lo", "type": "quantitative"}, "y2": {"field": "hi"}}},
  {"data": {"name": "s"}, "transform": [{"filter": "datum.p == 5"}], "mark": {"type": "tick", "orient": "horizontal", "color": "black", "size": 20, "thickness": 1}, "encoding": {"y": {"field": "lo", "type": "quantitative"}}},
  {"data": {"name": "s"}, "transform": [{"filter": "datum.p == 5"}], "mark": {"type": "tick", "orient": "horizontal", "color": "black", "size": 20, "thickness": 1}, "encoding": {"y": {"field": "hi", "type": "quantitative"}}},
  {"data": {"name": "s"}, "transform": [{"filter": "datum.p == 5"}], "mark": {"type": "line", "color": "black", "strokeWidth": 1}, "encoding": {}},
  {"data": {"name": "d5"}, "mark": {"type": "circle", "size": 40, "color": "black", "opacity": 1, "clip": true}, "encoding": {}}
 ]},
{"width": 239, "height": 134,
 "title": {"text": "6102 Perceptual", "subtitle": "γ̂ = 0.01 \u2002𝑝 = .77 \u2002𝑑₂ = 0.09", "offset": -24},
 "encoding": {"x": {"field": "x", "type": "quantitative", "scale": {"domain": [0.4, 2.6], "nice": false, "zero": false}, "axis": {"values": [1, 2], "labelExpr": "datum.value == 1 ? 'EVAL' : 'POST'", "title": null}},
  "y": {"field": "y", "type": "quantitative", "scale": {"domain": [-0.05, 1.14], "nice": false, "zero": false}, "axis": {"values": [0, 0.5, 1], "format": ".1f", "title": ["Average listener judgment", "(1 = correct)"]}}},
 "layer": [
  {"data": {"name": "s"}, "transform": [{"filter": "datum.p == 6"}], "mark": {"type": "rule", "color": "black", "strokeWidth": 1}, "encoding": {"y": {"field": "lo", "type": "quantitative"}, "y2": {"field": "hi"}}},
  {"data": {"name": "s"}, "transform": [{"filter": "datum.p == 6"}], "mark": {"type": "line", "color": "black", "strokeWidth": 1}, "encoding": {}},
  {"data": {"name": "d6"}, "mark": {"type": "circle", "size": 40, "color": "black", "opacity": 1, "clip": true}, "encoding": {}}
 ]},
{"width": 243, "height": 134,
 "title": {"text": "3102 Acoustic", "subtitle": "γ̂ = −0.03 \u2002𝑝 = .95 \u2002𝑑₂ = 0"},
 "encoding": {"x": {"field": "x", "type": "quantitative", "scale": {"domain": [0.4, 2.6], "nice": false, "zero": false}, "axis": {"values": [1, 2], "labelExpr": "datum.value == 1 ? 'EVAL' : 'POST'", "title": null}},
  "y": {"field": "y", "type": "quantitative", "scale": {"domain": [-2.2, 24.4], "nice": false, "zero": false}, "axis": {"values": [0, 5, 10, 15, 20], "title": ["Normalized F3–F2", "(z score)"]}}},
 "layer": [
  {"data": {"name": "s"}, "transform": [{"filter": "datum.p == 7"}], "mark": {"type": "rule", "color": "black", "strokeWidth": 1}, "encoding": {"y": {"field": "lo", "type": "quantitative"}, "y2": {"field": "hi"}}},
  {"data": {"name": "s"}, "transform": [{"filter": "datum.p == 7"}], "mark": {"type": "tick", "orient": "horizontal", "color": "black", "size": 20, "thickness": 1}, "encoding": {"y": {"field": "lo", "type": "quantitative"}}},
  {"data": {"name": "s"}, "transform": [{"filter": "datum.p == 7"}], "mark": {"type": "tick", "orient": "horizontal", "color": "black", "size": 20, "thickness": 1}, "encoding": {"y": {"field": "hi", "type": "quantitative"}}},
  {"data": {"name": "s"}, "transform": [{"filter": "datum.p == 7"}], "mark": {"type": "line", "color": "black", "strokeWidth": 1}, "encoding": {}},
  {"data": {"name": "d7"}, "mark": {"type": "circle", "size": 40, "color": "black", "opacity": 1, "clip": true}, "encoding": {}}
 ]},
{"width": 239, "height": 134,
 "title": {"text": "3102 Perceptual", "subtitle": "γ̂ = 0.21 \u2002𝑝 < .0001 \u2002𝑑₂ = 0.64", "offset": -24},
 "encoding": {"x": {"field": "x", "type": "quantitative", "scale": {"domain": [0.4, 2.6], "nice": false, "zero": false}, "axis": {"values": [1, 2], "labelExpr": "datum.value == 1 ? 'EVAL' : 'POST'", "title": null}},
  "y": {"field": "y", "type": "quantitative", "scale": {"domain": [-0.05, 1.14], "nice": false, "zero": false}, "axis": {"values": [0, 0.5, 1], "format": ".1f", "title": ["Average listener judgment", "(1 = correct)"]}}},
 "layer": [
  {"data": {"name": "s"}, "transform": [{"filter": "datum.p == 8"}], "mark": {"type": "rule", "color": "black", "strokeWidth": 1}, "encoding": {"y": {"field": "lo", "type": "quantitative"}, "y2": {"field": "hi"}}},
  {"data": {"name": "s"}, "transform": [{"filter": "datum.p == 8"}], "mark": {"type": "tick", "orient": "horizontal", "color": "black", "size": 20, "thickness": 1}, "encoding": {"y": {"field": "lo", "type": "quantitative"}}},
  {"data": {"name": "s"}, "transform": [{"filter": "datum.p == 8"}], "mark": {"type": "tick", "orient": "horizontal", "color": "black", "size": 20, "thickness": 1}, "encoding": {"y": {"field": "hi", "type": "quantitative"}}},
  {"data": {"name": "s"}, "transform": [{"filter": "datum.p == 8"}], "mark": {"type": "line", "color": "black", "strokeWidth": 1}, "encoding": {}},
  {"data": {"name": "d8"}, "mark": {"type": "circle", "size": 40, "color": "black", "opacity": 1, "clip": true}, "encoding": {}}
 ]}
]
}
